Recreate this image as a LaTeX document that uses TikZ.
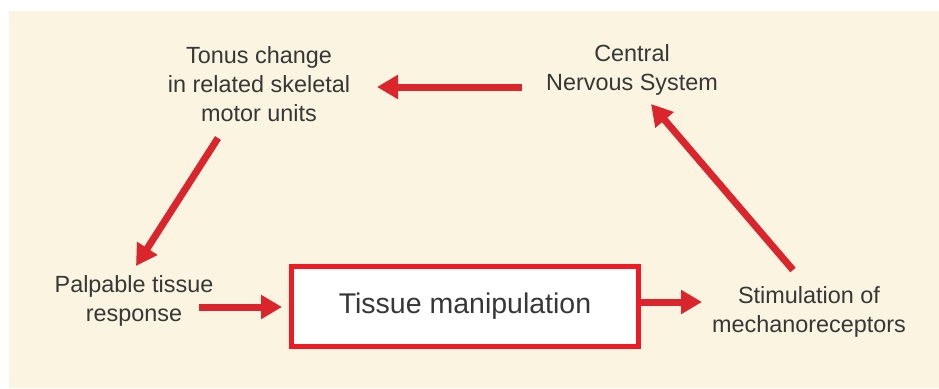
\documentclass[tikz,border=0pt]{standalone}
\usepackage{fontspec}
\setmainfont{Liberation Sans}
\usetikzlibrary{arrows.meta,calc}
\definecolor{bgcream}{RGB}{250,244,224}
\definecolor{arrowred}{RGB}{217,37,43}
\definecolor{boxred}{RGB}{237,28,36}
\definecolor{txtgray}{RGB}{55,55,55}
\tikzset{
  lbl/.style={align=center, text=txtgray, inner sep=0pt,
    font=\fontsize{23.4}{29}\selectfont},
  mainbox/.style={draw=boxred, line width=5pt, fill=white, text=txtgray,
    minimum width=347pt, minimum height=80pt, inner sep=0pt,
    font=\fontsize{28.5}{34}\selectfont},
  flow/.style={draw=arrowred, line width=7pt,
    -{Triangle[length=21pt,width=23pt]}}
}
\begin{document}
\begin{tikzpicture}[x=1pt,y=-1pt]
\useasboundingbox (0,0) rectangle (939,388);
\fill[bgcream] (9,11) rectangle (939,388);
\node[lbl] (tonus) at (259,84) {Tonus change\\in related skeletal\\motor units};
\node[lbl] (cns) at (632,70) {Central\\Nervous System};
\node[lbl] (palp) at (134,301) {Palpable tissue\\response};
\node[lbl] (stim) at (809,312) {Stimulation of\\mechanoreceptors};
\node[mainbox] (box) at (465,306.5) {Tissue manipulation};
\draw[flow] ($(cns.center)+(-110,17)$) -- ($(tonus.center)+(118,3)$);
\draw[flow] ($(tonus.center)+(-41,54)$) -- ($(palp.center)+(2,-35)$);
\draw[flow] ($(palp.center)+(65,6)$) -- ($(box.west)+(-7,0.5)$);
\draw[flow] ($(box.east)+(-1,-4.5)$) -- ($(stim.center)+(-107,-10)$);
\draw[flow] ($(stim.center)+(-16,-42)$) -- ($(cns.center)+(19,34)$);
\end{tikzpicture}
\end{document}
